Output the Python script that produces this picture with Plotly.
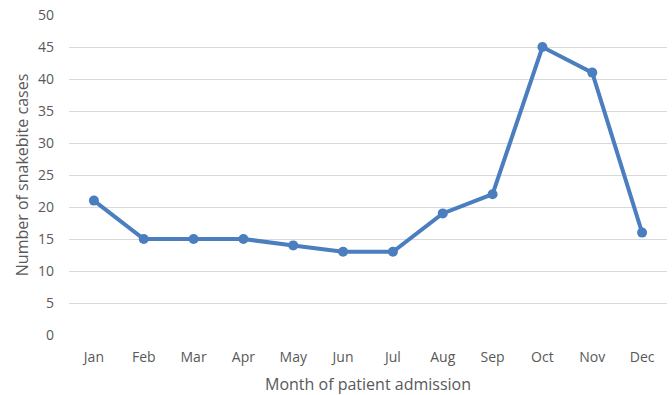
import plotly.graph_objects as go

months = ["Jan", "Feb", "Mar", "Apr", "May", "Jun", "Jul", "Aug", "Sep", "Oct", "Nov", "Dec"]
cases = [21, 15, 15, 15, 14, 13, 13, 19, 22, 45, 41, 16]
y_ticks = [0, 5, 10, 15, 20, 25, 30, 35, 40, 45, 50]

fig = go.Figure(go.Scatter(
    x=months, y=cases, mode="lines+markers",
    line=dict(color="#4A7EBF", width=4),
    marker=dict(color="#4A7EBF", size=10),
))

font = dict(family="Open Sans, Lato, sans-serif", size=14, color="#595959")
fig.update_layout(
    width=672, height=395,
    margin=dict(l=69, r=5, t=15, b=60, autoexpand=False),
    plot_bgcolor="white", paper_bgcolor="white",
    font=font, showlegend=False,
)
fig.update_xaxes(
    type="category", range=[-0.5, 11.5], showgrid=False, showline=False, zeroline=False,
    ticks="", ticklabelstandoff=12, automargin=False,
    title=dict(text="Month of patient admission", font=dict(size=16, color="#595959"), standoff=14),
)
fig.update_yaxes(
    range=[0, 50], tickvals=y_ticks, showgrid=True, gridcolor="#D9D9D9", gridwidth=1,
    zeroline=False, showline=False, ticks="", ticklabelstandoff=14, automargin=False,
    title=dict(text="Number of snakebite cases", font=dict(size=16, color="#595959"), standoff=5),
)
fig.write_html(
    "out.html",
    config={"displayModeBar": False},
    post_script="document.body.style.margin='0';document.body.style.overflow='hidden';",
)
